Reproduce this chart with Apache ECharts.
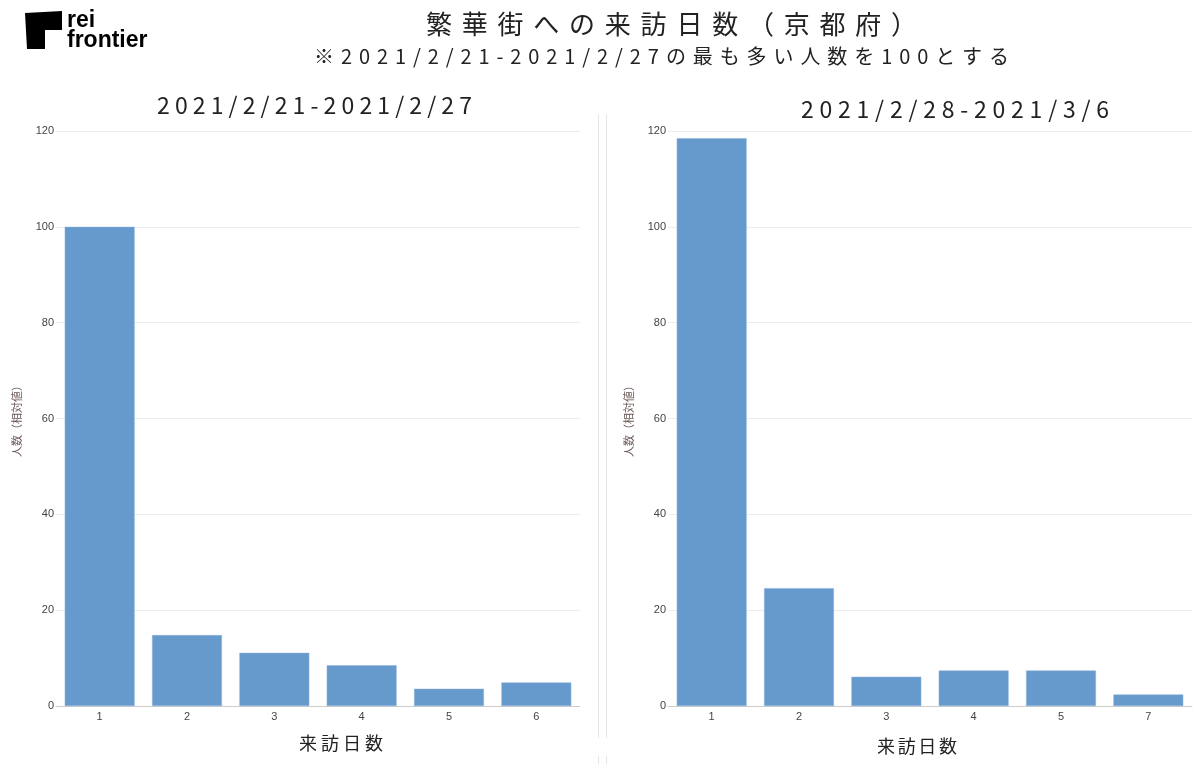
<!DOCTYPE html>
<html>
<head>
<meta charset="utf-8">
<script src="https://cdn.jsdelivr.net/npm/echarts@6/dist/echarts.min.js"></script>
<style>html,body{margin:0;padding:0;background:#fff}#c{width:1200px;height:764px}</style>
</head>
<body>
<div id="c"></div>
<script>
var mainTitle = '繁華街への来訪日数（京都府）';
var subTitle = '※2021/2/21-2021/2/27の最も多い人数を100とする';
var leftTitle = '2021/2/21-2021/2/27';
var rightTitle = '2021/2/28-2021/3/6';
var yAxisName = '人数（相対値）';
var xAxisName = '来訪日数';
var leftCategories = ['1', '2', '3', '4', '5', '6'];
var leftValues = [100, 14.8, 11.1, 8.5, 3.6, 4.9];
var rightCategories = ['1', '2', '3', '4', '5', '7'];
var rightValues = [118.5, 24.6, 6.1, 7.4, 7.4, 2.4];
var yTicks = [0, 20, 40, 60, 80, 100, 120];

var FONT = '"Noto Sans CJK JP", "Noto Sans", sans-serif';
var NUMFONT = '"Liberation Sans", Arial, sans-serif';
var BAR = '#6699cc';

// letter-spaced text via rich tokens: spacing chosen so the text spans [x0, x1]
var measureCtx = document.createElement('canvas').getContext('2d');
function spacedTitle(str, x0, x1, top, size, color) {
  measureCtx.font = size + 'px ' + FONT;
  var chars = Array.from(str);
  var w = measureCtx.measureText(str).width;
  var s = Math.max(0, (x1 - x0 - w) / (chars.length - 1));
  var base = { fontSize: size, fontFamily: FONT, color: color, lineHeight: Math.round(size * 1.3) };
  var sp = Object.assign({}, base, { padding: [0, s, 0, 0] });
  var txt = chars.map(function (c, i) { return '{' + (i < chars.length - 1 ? 's' : 'e') + '|' + c + '}'; }).join('');
  return {
    text: txt, left: x0, top: top,
    textStyle: { fontSize: size, fontFamily: FONT, fontWeight: 'normal', color: color, rich: { s: sp, e: base } }
  };
}

function yAxis(gi, gap) {
  return {
    type: 'value', gridIndex: gi, min: yTicks[0], max: yTicks[yTicks.length - 1], interval: yTicks[1] - yTicks[0],
    name: yAxisName, nameLocation: 'middle', nameGap: gap,
    nameTextStyle: { fontSize: 11, color: '#6a5555', fontFamily: FONT },
    axisLine: { show: false }, axisTick: { show: false },
    axisLabel: { fontSize: 11, color: '#444', fontFamily: NUMFONT, margin: 2 },
    splitLine: { lineStyle: { color: '#ececec', width: 1 } }
  };
}
function xAxis(gi, cats) {
  return {
    type: 'category', gridIndex: gi, data: cats,
    axisLine: { lineStyle: { color: '#cccccc' } }, axisTick: { show: false },
    axisLabel: { fontSize: 11, color: '#444', fontFamily: NUMFONT, margin: 5 }
  };
}

var chart = echarts.init(document.getElementById('c'));
chart.setOption({
  backgroundColor: '#fff',
  animation: false,
  title: [
    spacedTitle(mainTitle, 421, 912, 2, 26, '#222'),
    spacedTitle(subTitle, 309, 1004, 38, 20, '#222'),
    spacedTitle(leftTitle, 152, 467, 85, 23, '#222'),
    spacedTitle(rightTitle, 796, 1104, 89, 23, '#222'),
    spacedTitle(xAxisName, 294, 378, 727, 18, '#222'),
    spacedTitle(xAxisName, 872, 952, 730, 18, '#222')
  ],
  grid: [
    { left: 56, right: 620, top: 131, bottom: 58 },
    { left: 668, right: 8, top: 131, bottom: 58 }
  ],
  xAxis: [xAxis(0, leftCategories), xAxis(1, rightCategories)],
  yAxis: [yAxis(0, 34), yAxis(1, 34)],
  series: [
    { type: 'bar', xAxisIndex: 0, yAxisIndex: 0, data: leftValues, barCategoryGap: '20%',
      itemStyle: { color: BAR, borderColor: '#8db3dc', borderWidth: 0.5 } },
    { type: 'bar', xAxisIndex: 1, yAxisIndex: 1, data: rightValues, barCategoryGap: '20%',
      itemStyle: { color: BAR, borderColor: '#8db3dc', borderWidth: 0.5 } }
  ],
  graphic: [
    { type: 'polygon', shape: { points: [[25, 13], [62, 11], [62, 30], [45, 30], [45, 49], [27, 49]] }, style: { fill: '#000' } },
    { type: 'text', left: 67, top: 9, style: { text: 'rei', fontSize: 23, fontWeight: 'bold', fill: '#000', fontFamily: NUMFONT } },
    { type: 'text', left: 67, top: 29, style: { text: 'frontier', fontSize: 23, fontWeight: 'bold', fill: '#000', fontFamily: NUMFONT } },
    { type: 'line', shape: { x1: 598.5, y1: 114, x2: 598.5, y2: 738 }, style: { stroke: '#e6e6e6', lineWidth: 1 } },
    { type: 'line', shape: { x1: 606.5, y1: 114, x2: 606.5, y2: 738 }, style: { stroke: '#e6e6e6', lineWidth: 1 } },
    { type: 'line', shape: { x1: 598.5, y1: 756, x2: 598.5, y2: 764 }, style: { stroke: '#e6e6e6', lineWidth: 1 } },
    { type: 'line', shape: { x1: 606.5, y1: 756, x2: 606.5, y2: 764 }, style: { stroke: '#e6e6e6', lineWidth: 1 } }
  ]
});
</script>
</body>
</html>
